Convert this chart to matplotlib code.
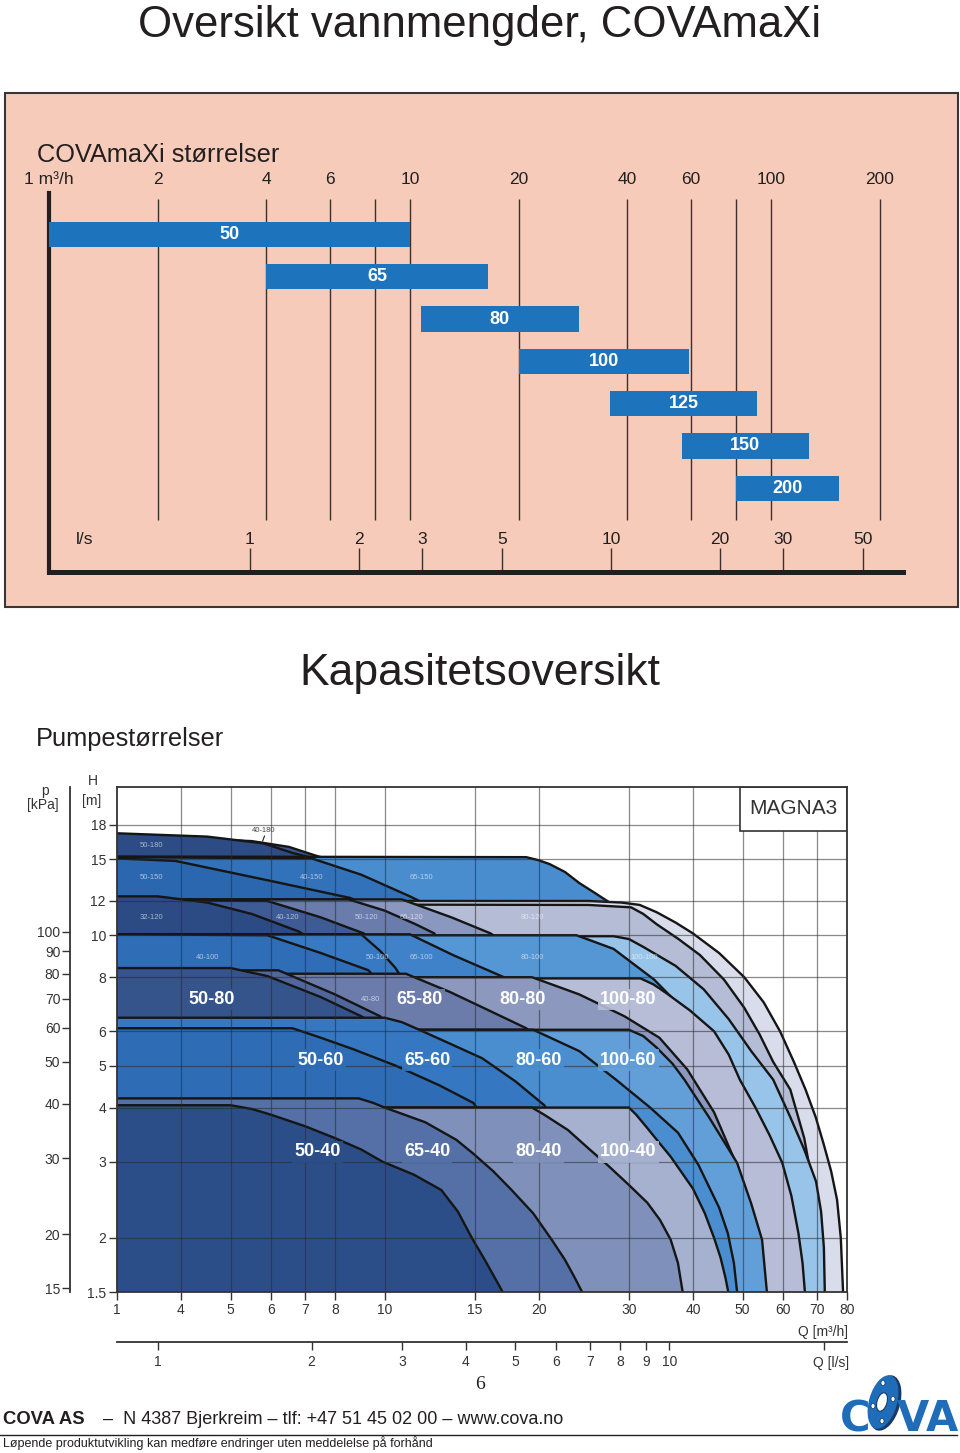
import matplotlib.pyplot as plt
from matplotlib.patches import Rectangle, Ellipse
from matplotlib.lines import Line2D
from matplotlib.ticker import NullLocator

plt.rcParams['font.family'] = ['Liberation Sans', 'DejaVu Sans']

# ---------------- data: COVAmaXi sizes (m3/h) ----------------
sizes = ['50', '65', '80', '100', '125', '150', '200']
q_from = [1.0, 4.0, 10.7, 20.0, 35.8, 56.7, 80.0]
q_to = [10.0, 16.4, 29.4, 59.3, 91.5, 127.0, 154.0]

m3h_ticks = [1, 2, 4, 6, 8, 10, 20, 40, 60, 80, 100, 200]
m3h_labels = ['1 m³/h', '2', '4', '6', '', '10', '20', '40', '60', '', '100', '200']
ls_ticks = [1, 2, 3, 5, 10, 20, 30, 50]
M3H_PER_LS = 3.6

# ---------------- data: MAGNA3 pump curves (Q m3/h, H m) ----------------
curves_180 = {
    '40-180': ([3, 5.5, 6.5, 7.3, 8, 10, 13, 16, 18, 19],
               [17.0, 16.5, 16.0, 15.3, 14.8, 13.0, 10.0, 6.0, 3.0, 1.5]),
    '50-180': ([3, 4.5, 5.8, 6.6, 7.2, 9, 12, 15, 17, 18],
               [17.2, 16.9, 16.3, 15.5, 15.1, 13.5, 11.0, 7.0, 3.0, 1.5]),
}
curves_150 = {
    '65-150': ([3, 18.9, 20, 21, 22.5, 24, 25.8, 27.5, 30, 35, 38, 40, 41],
               [15.2, 15.15, 14.9, 14.6, 14.0, 13.2, 12.5, 11.9, 10.8, 8.5, 6.0, 3.5, 1.5]),
    '40-150': ([3, 7.2, 9, 11.2, 14, 17, 20, 23, 24],
               [15.15, 15.05, 13.8, 12.3, 10.8, 9.0, 6.5, 3.5, 1.5]),
    '50-150': ([3, 3.9, 5.9, 8.55, 10, 12, 14, 16, 17],
               [15.05, 14.85, 13.4, 12.2, 11.3, 9.5, 7.0, 3.5, 1.5]),
}
curves_120 = {
    '100-120': ([3, 25, 29, 31.5, 34, 37, 40, 45, 50.4, 55, 59.2, 63, 66.4, 69.5, 72, 74.5,
                 76.5, 77.8, 78.6],
                [12.0, 12.0, 11.9, 11.75, 11.3, 10.7, 10.1, 9.1, 8.0, 7.0, 6.0, 5.1, 4.4, 3.8,
                 3.3, 2.85, 2.45, 2.0, 1.5]),
    '80-120': ([3, 25, 30.3, 32, 34, 37.5, 41.3, 46, 50.4, 54, 57.4, 62, 66, 68, 69.5, 70.5],
               [11.8, 11.75, 11.6, 11.2, 10.6, 9.8, 9.0, 7.9, 6.8, 5.9, 5.1, 4.4, 3.4, 2.8, 2.2, 1.5]),
    '65-120': ([3, 10.8, 13.5, 16.1, 20, 25, 28, 30],
               [12.1, 12.1, 11.0, 10.1, 8.5, 6.0, 4.0, 1.5]),
    '50-120': ([3, 8.5, 10, 11.5, 12.5, 14, 16, 17],
               [12.1, 12.1, 11.4, 10.6, 10.1, 8.0, 4.0, 1.5]),
    '40-120': ([3, 5.9, 7.5, 9.1, 10.5, 12, 13, 13.5],
               [12.05, 12.0, 11.0, 10.1, 8.5, 6.0, 3.0, 1.5]),
    '32-120': ([3, 3.6, 4.5, 5.5, 6.8, 8, 10, 11, 12],
               [12.3, 12.3, 11.9, 11.2, 10.2, 9.0, 6.0, 4.0, 1.5]),
}
curves_100 = {
    '100-100': ([3, 28, 30, 32, 37, 42, 47, 52, 57.4, 62, 66, 69.6, 71.2, 72.1, 72.4],
                [9.95, 9.95, 9.8, 9.4, 8.5, 7.5, 6.4, 5.4, 4.64, 3.8, 3.2, 2.7, 2.3, 1.9, 1.5]),
    '80-100': ([3, 23.7, 28, 33.6, 40, 45, 50, 55, 60, 64],
               [10.0, 10.0, 9.3, 7.9, 6.4, 5.2, 4.3, 3.4, 2.5, 1.5]),
    '65-100': ([3, 11.2, 13.6, 17.1, 21, 26, 32, 36],
               [10.05, 10.05, 9.0, 8.0, 6.6, 5.0, 3.3, 1.5]),
    '50-100': ([3, 9.0, 9.8, 10.5, 12, 14, 15],
               [10.05, 10.05, 9.2, 8.4, 6.5, 4.0, 1.5]),
    '40-100': ([3, 5.9, 7.5, 9.3, 10.5, 12, 13],
               [10.05, 10.0, 9.1, 8.3, 7.0, 4.5, 1.5]),
}
curves_80 = {
    '100-80': ([3, 31.6, 33.5, 35.5, 39.5, 44, 47, 49.4, 53, 56.5, 59.8, 62.3, 64.3, 65.5, 66.2],
               [7.95, 7.95, 7.7, 7.35, 6.7, 6.0, 5.3, 4.64, 4.0, 3.45, 2.98, 2.5, 2.05, 1.75, 1.5]),
    '80-80': ([3, 19.4, 24, 29.4, 34.4, 39, 44, 49, 52, 54],
              [8.0, 8.0, 7.3, 6.5, 5.8, 4.9, 3.9, 2.9, 2.1, 1.5]),
    '65-80': ([3, 11, 13.4, 16, 18.9, 22, 26, 29, 30],
              [8.15, 8.15, 7.4, 6.7, 6.1, 5.2, 3.8, 2.2, 1.5]),
    '40-80': ([3, 6.2, 8, 9.8, 11, 13, 14],
              [8.3, 8.3, 7.3, 6.5, 5.5, 3.5, 1.5]),
    '50-80': ([3, 5.0, 5.9, 7.5, 9.0, 10, 11, 12.5, 13],
              [8.4, 8.4, 8.05, 7.2, 6.5, 6.0, 5.0, 3.0, 1.5]),
}
curves_60 = {
    '100-60': ([3, 30, 32, 34, 36.5, 38.5, 43, 48.8, 52, 54.6, 55.8],
               [6.05, 6.05, 5.85, 5.5, 5.05, 4.64, 3.8, 2.98, 2.4, 1.98, 1.5]),
    '80-60': ([3, 19.5, 24, 28.3, 33, 37.4, 41, 45, 46.8, 48.1, 48.8],
              [6.05, 6.05, 5.4, 4.64, 4.0, 3.5, 2.95, 2.35, 2.05, 1.75, 1.5]),
    '65-60': ([3, 10, 10.8, 11.5, 13.5, 15.5, 18, 20.5, 24, 27],
              [6.45, 6.45, 6.3, 6.1, 5.6, 5.2, 4.6, 4.05, 3.0, 1.5]),
    '50-60': ([3, 6.6, 7.5, 8.7, 10.5, 12.8, 14.9, 17, 19],
              [6.1, 6.1, 5.8, 5.45, 5.0, 4.5, 4.1, 3.3, 1.5]),
}
curves_40 = {
    '100-40': ([3, 30, 31, 32.5, 34.5, 36.2, 40, 42.2, 44, 45.3, 46.3, 46.9],
               [4.0, 4.0, 3.85, 3.6, 3.3, 3.08, 2.6, 2.28, 2.0, 1.8, 1.62, 1.5]),
    '80-40': ([3, 19.4, 20.5, 22.8, 25, 27.3, 30, 32.6, 34.5, 36.2, 37.4, 38.2],
              [4.0, 4.0, 3.85, 3.55, 3.22, 2.94, 2.65, 2.41, 2.2, 1.98, 1.75, 1.5]),
    '65-40': ([3, 8.9, 9.5, 10, 12, 13.8, 14.9, 16.3, 17.7, 19.5, 21.2, 22.5, 23.5, 24.3],
              [4.2, 4.2, 4.1, 4.0, 3.7, 3.37, 3.13, 2.85, 2.58, 2.28, 1.98, 1.78, 1.62, 1.5]),
    '50-40': ([3, 5, 5.5, 6, 7, 8, 9, 9.9, 11.4, 12.9, 13.9, 14.8, 15.6, 16.4, 17],
              [4.05, 4.05, 3.97, 3.85, 3.62, 3.4, 3.2, 3.0, 2.8, 2.58, 2.3, 2.0, 1.8, 1.62, 1.5]),
}
head_classes = [curves_180, curves_150, curves_120, curves_100, curves_80, curves_60, curves_40]

pump_colors = {
    '40-180': '#3b5893', '50-180': '#2d4b85',
    '65-150': '#4a8dcf', '40-150': '#3272ba', '50-150': '#2b67af',
    '100-120': '#d9dcea', '80-120': '#b5bcd6', '65-120': '#8a97bf', '50-120': '#6a7cab',
    '40-120': '#3e5b95', '32-120': '#2c4b85',
    '100-100': '#98c4e9', '80-100': '#5597d5', '65-100': '#3f82c9', '50-100': '#3779c2',
    '40-100': '#2f6db6',
    '100-80': '#b7bdd7', '80-80': '#8d98be', '65-80': '#6b7cab', '40-80': '#4f679d',
    '50-80': '#35548b',
    '100-60': '#629fd9', '80-60': '#4a8ed0', '65-60': '#3577c1', '50-60': '#2f6cb6',
    '100-40': '#a5b1cf', '80-40': '#7f91ba', '65-40': '#5470a6', '50-40': '#2c4e88',
}

big_names = ['50-80', '65-80', '80-80', '100-80', '50-60', '65-60', '80-60', '100-60',
             '50-40', '65-40', '80-40', '100-40']
big_q = [4.6, 11.7, 18.6, 29.9, 7.5, 12.1, 20.0, 29.9, 7.4, 12.1, 20.0, 29.9]
big_h = [7.1, 7.1, 7.1, 7.1, 5.15, 5.15, 5.15, 5.15, 3.16, 3.16, 3.16, 3.16]

small_names = ['50-180', '50-150', '40-150', '65-150', '32-120', '40-120', '50-120', '65-120',
               '80-120', '40-100', '50-100', '65-100', '80-100', '100-100', '40-80']
small_q = [3.5, 3.5, 7.2, 11.8, 3.5, 6.45, 9.2, 11.3, 19.4, 4.5, 9.7, 11.8, 19.4, 32.2, 9.4]
small_h = [16.1, 13.6, 13.6, 13.6, 11.0, 11.0, 11.0, 11.0, 11.0, 8.9, 8.9, 8.9, 8.9, 8.9, 7.1]

q_ticks = [3, 4, 5, 6, 7, 8, 10, 15, 20, 30, 40, 50, 60, 70, 80]
q_tick_labels = ['1', '4', '5', '6', '7', '8', '10', '15', '20', '30', '40', '50', '60', '70', '80']
h_ticks = [1.5, 2, 3, 4, 5, 6, 8, 10, 12, 15, 18]
p_ticks = [15, 20, 30, 40, 50, 60, 70, 80, 90, 100]
lps_ticks = [1, 2, 3, 4, 5, 6, 7, 8, 9, 10, 20]
lps_labels = ['1', '2', '3', '4', '5', '6', '7', '8', '9', '10', '']
KPA_PER_M = 9.81
Q_MIN, Q_MAX, H_MIN, H_MAX = 3, 80, 1.5, 22.0

# ---------------- layout helpers (pixel -> figure) ----------------
FW, FH = 960, 1453


def fx(px):
    return px / FW


def fy(py):
    return 1 - py / FH


def rect(x0, y0, x1, y1):
    return [fx(x0), fy(y1), fx(x1) - fx(x0), fy(y0) - fy(y1)]


INK = '#231f20'
fig = plt.figure(figsize=(9.6, 14.53), dpi=100)

fig.text(0.5, fy(37), 'Oversikt vannmengder, COVAmaXi', ha='center', va='baseline',
         fontsize=31.5, color=INK)

# pink panel
fig.add_artist(Rectangle((fx(5), fy(607)), fx(958) - fx(5), fy(93) - fy(607),
                         transform=fig.transFigure, fc='#f6cbb9', ec='#3d3535', lw=1.5, zorder=0))
fig.text(fx(37), fy(162), 'COVAmaXi størrelser', ha='left', va='baseline', fontsize=18.3, color=INK)

ax_t = fig.add_axes(rect(49, 193, 903, 572))
ax_t.patch.set_alpha(0)
ax_t.set_xscale('log')
ax_t.set_xlim(1, 232)
ax_t.set_ylim(7.98, -0.98)
for s in ['top', 'right']:
    ax_t.spines[s].set_visible(False)
ax_t.spines['left'].set_linewidth(3)
ax_t.spines['bottom'].set_linewidth(3.6)
ax_t.spines['left'].set_color(INK)
ax_t.spines['bottom'].set_color(INK)
ax_t.set_xticks([])
ax_t.set_yticks([])
ax_t.xaxis.set_minor_locator(NullLocator())

xt = ax_t.get_xaxis_transform()
ax_t.vlines(m3h_ticks[1:], 0.137, 0.984, transform=xt, colors='#3b2f2f', lw=1, zorder=1)
for q, lab in zip(m3h_ticks, m3h_labels):
    ax_t.text(q, 1.0237, lab, transform=xt, ha='center', va='baseline', fontsize=12.5,
              color=INK, clip_on=False)
ls_in_m3h = [v * M3H_PER_LS for v in ls_ticks]
ax_t.vlines(ls_in_m3h, 0.006, 0.0633, transform=xt, colors='#3b2f2f', lw=1, zorder=1)
for q, v in zip(ls_in_m3h, ls_ticks):
    ax_t.text(q, 0.0739, str(v), transform=xt, ha='center', va='baseline', fontsize=12.5, color=INK)
ax_t.text(0.042, 0.0739, 'l/s', transform=ax_t.transAxes, ha='center', va='baseline',
          fontsize=12.5, color=INK)

widths = [b - a for a, b in zip(q_from, q_to)]
ax_t.barh(range(len(sizes)), widths, left=q_from, height=0.6, color='#1d74bd', zorder=3)
for i, (a, b, name) in enumerate(zip(q_from, q_to, sizes)):
    ax_t.text((a * b) ** 0.5, i, name, ha='center', va='center', color='white',
              fontsize=13, fontweight='bold', zorder=4)

# ---------------- capacity chart ----------------
fig.text(0.5, fy(685), 'Kapasitetsoversikt', ha='center', va='baseline', fontsize=32, color=INK)
fig.text(fx(36), fy(746), 'Pumpestørrelser', ha='left', va='baseline', fontsize=18.3, color=INK)

ax = fig.add_axes(rect(117, 787, 847, 1292))
ax.set_xscale('log')
ax.set_yscale('log')
ax.set_xlim(Q_MIN, Q_MAX)
ax.set_ylim(H_MIN, H_MAX)

z = 1.0
for cls in head_classes:
    for name, (qs, hs) in cls.items():
        ax.fill(qs + [qs[0]], hs + [hs[-1]], color=pump_colors[name], lw=0, zorder=z)
        ax.plot(qs, hs, color='#151515', lw=1.7, zorder=z + 0.5, solid_joinstyle='round')
        z += 1

grid_z = z + 1
for q in q_ticks[1:-1]:
    ax.axvline(q, color='#2a2a2a', lw=0.9, alpha=0.55, zorder=grid_z)
for h in h_ticks[1:]:
    ax.axhline(h, color='#2a2a2a', lw=0.9, alpha=0.55, zorder=grid_z)

for name, q, h in zip(small_names, small_q, small_h):
    ax.text(q, h, name, ha='center', va='center', fontsize=5.5, color='white', alpha=0.6,
            zorder=grid_z + 1)
ax.text(5.8, 17.5, '40-180', ha='center', va='center', fontsize=5.5, color='#444',
        zorder=grid_z + 1)
ax.annotate('', xy=(5.75, 16.25), xytext=(5.85, 17.2),
            arrowprops=dict(arrowstyle='-', color='#222', lw=0.8), zorder=grid_z + 1)

for name, q, h in zip(big_names, big_q, big_h):
    ax.text(q, h, name, ha='center', va='center', fontsize=13, fontweight='bold', color='white',
            zorder=grid_z + 2,
            bbox=dict(boxstyle='square,pad=0.12', fc=pump_colors[name], ec='none', alpha=0.9))

ax.add_patch(Rectangle((0.853, 0.913), 0.147, 0.087, transform=ax.transAxes, fc='white',
                       ec='#333', lw=1.2, zorder=grid_z + 3))
ax.text(0.9265, 0.9565, 'MAGNA3', transform=ax.transAxes, ha='center', va='center',
        fontsize=15, color='#333', zorder=grid_z + 4)

for s in ax.spines.values():
    s.set_color('#333')
    s.set_linewidth(1.3)
    s.set_zorder(grid_z + 5)
ax.set_xticks(q_ticks)
ax.set_xticklabels(q_tick_labels)
ax.set_yticks(h_ticks)
ax.set_yticklabels([f'{h:g}' for h in h_ticks])
ax.xaxis.set_minor_locator(NullLocator())
ax.yaxis.set_minor_locator(NullLocator())
ax.tick_params(direction='out', length=6, width=1.0, color='#333', labelcolor='#333',
               labelsize=10, pad=2)

# pressure axis (kPa)
ax_p = fig.add_axes(rect(70, 787, 70.01, 1292))
ax_p.set_yscale('log')
ax_p.set_ylim(H_MIN * KPA_PER_M, H_MAX * KPA_PER_M)
ax_p.patch.set_alpha(0)
for s in ['top', 'right', 'bottom']:
    ax_p.spines[s].set_visible(False)
ax_p.spines['left'].set_color('#333')
ax_p.spines['left'].set_linewidth(1.3)
ax_p.set_xticks([])
ax_p.set_yticks(p_ticks)
ax_p.set_yticklabels([str(p) for p in p_ticks])
ax_p.yaxis.set_minor_locator(NullLocator())
ax_p.tick_params(direction='out', length=6, width=1.0, color='#333', labelcolor='#333',
                 labelsize=10, pad=1)

# l/s axis
ax_l = fig.add_axes(rect(117, 1342, 847, 1342.01))
ax_l.set_xscale('log')
ax_l.set_xlim(Q_MIN / M3H_PER_LS, Q_MAX / M3H_PER_LS)
ax_l.patch.set_alpha(0)
for s in ['top', 'right', 'left']:
    ax_l.spines[s].set_visible(False)
ax_l.spines['bottom'].set_color('#333')
ax_l.spines['bottom'].set_linewidth(1.3)
ax_l.set_yticks([])
ax_l.set_xticks(lps_ticks)
ax_l.set_xticklabels(lps_labels)
ax_l.xaxis.set_minor_locator(NullLocator())
ax_l.tick_params(direction='out', length=6, width=1.0, color='#333', labelcolor='#333',
                 labelsize=10, pad=3)

fig.text(fx(45), fy(791), 'p', ha='center', va='center', fontsize=10, color='#333')
fig.text(fx(43), fy(805), '[kPa]', ha='center', va='center', fontsize=10, color='#333')
fig.text(fx(93), fy(781), 'H', ha='center', va='center', fontsize=10, color='#333')
fig.text(fx(92), fy(801), '[m]', ha='center', va='center', fontsize=10, color='#333')
fig.text(fx(848), fy(1336), 'Q [m³/h]', ha='right', va='baseline', fontsize=10, color='#333')
fig.text(fx(849), fy(1367), 'Q [l/s]', ha='right', va='baseline', fontsize=10, color='#333')

# ---------------- footer ----------------
fig.text(0.5, fy(1389), '6', ha='center', va='baseline', fontsize=14, color=INK,
         family='Liberation Serif')
fig.text(fx(3), fy(1424), 'COVA AS', ha='left', va='baseline', fontsize=13.3,
         fontweight='bold', color=INK)
fig.text(fx(103), fy(1424), '–  N 4387 Bjerkreim – tlf: +47 51 45 02 00 – www.cova.no',
         ha='left', va='baseline', fontsize=13, color=INK)
fig.add_artist(Line2D([0, fx(957)], [fy(1435), fy(1435)], transform=fig.transFigure,
                      color=INK, lw=1))
fig.text(fx(3), fy(1447), 'Løpende produktutvikling kan medføre endringer uten meddelelse på forhånd',
         ha='left', va='baseline', fontsize=9, color=INK)

# COVA logo
LOGO = '#1f6cb8'
SHADE = '#183a6b'
ax_logo = fig.add_axes(rect(836, 1370, 960, 1434))
ax_logo.set_xlim(836, 960)
ax_logo.set_ylim(1434, 1370)
ax_logo.axis('off')
ax_logo.text(855, 1431, 'C', ha='center', va='baseline', fontsize=30, fontweight='bold',
             color=LOGO, family='DejaVu Sans')
ax_logo.add_patch(Ellipse((885, 1403), 30, 57, angle=16, fc=SHADE, ec='none'))
ax_logo.add_patch(Ellipse((883, 1402), 28, 55, angle=16, fc=LOGO, ec='none'))
ax_logo.add_patch(Ellipse((882, 1402), 10, 19, angle=16, fc='white', ec=SHADE, lw=0.8))
for hx, hy in [(883, 1383), (893, 1399), (873, 1406), (882, 1421)]:
    ax_logo.add_patch(Ellipse((hx, hy), 4, 5, fc='white', ec=SHADE, lw=0.5))
ax_logo.text(913, 1431, 'V', ha='center', va='baseline', fontsize=30, fontweight='bold',
             color=LOGO, family='DejaVu Sans')
ax_logo.text(942, 1431, 'A', ha='center', va='baseline', fontsize=30, fontweight='bold',
             color=LOGO, family='DejaVu Sans')

fig.savefig('out.png', dpi=100)
